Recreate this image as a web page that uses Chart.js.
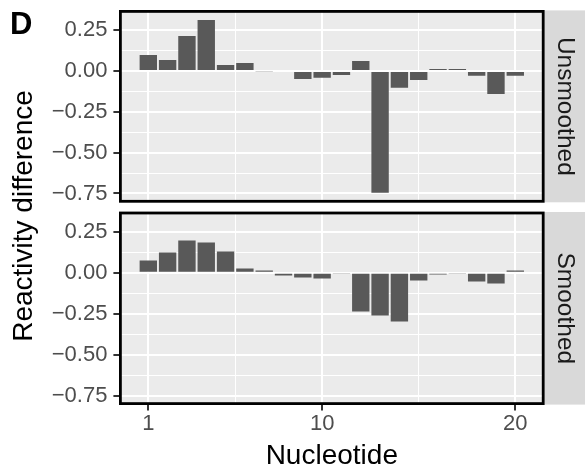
<!DOCTYPE html>
<html>
<head>
<meta charset="utf-8">
<script src="https://cdn.jsdelivr.net/npm/chart.js@4.4.1/dist/chart.umd.min.js"></script>
<style>
  body { margin: 0; background: #fff; }
  #wrap { position: relative; width: 585px; height: 470px; font-family: "Liberation Sans", Arial, sans-serif; }
  #wrap canvas { position: absolute; left: 0; top: 0; }
  .tag { position: absolute; left: 10px; top: 8px; font-size: 31px; font-weight: bold; line-height: 1; color: #000; }
  .ytitle { position: absolute; left: 23px; top: 216px; font-size: 28px; line-height: 1; color: #000;
            white-space: nowrap; transform: translate(-50%, -50%) rotate(-90deg); }
</style>
</head>
<body>
<div id="wrap">
  <canvas id="top" width="585" height="470"></canvas>
  <canvas id="bottom" width="585" height="470"></canvas>
  <div class="tag">D</div>
  <div class="ytitle">Reactivity difference</div>
</div>
<script>
// reactivity difference per nucleotide
const nucleotides = [1, 2, 3, 4, 5, 6, 7, 8, 9, 10, 11, 12, 13, 14, 15, 16, 17, 18, 19, 20];
const unsmoothed = [0.098, 0.067, 0.214, 0.312, 0.037, 0.049, -0.005, 0.006, -0.049, -0.041,
                    -0.024, 0.061, -0.745, -0.102, -0.055, 0.012, 0.012, -0.029, -0.141, -0.029];
const smoothed = [0.075, 0.124, 0.197, 0.185, 0.130, 0.026, 0.014, -0.016, -0.028, -0.035,
                  -0.004, -0.236, -0.260, -0.297, -0.047, -0.010, -0.004, -0.053, -0.065, 0.014];

// axis breaks and labels
const yBreaks = [-0.75, -0.5, -0.25, 0, 0.25];
const yLabels = ['\u22120.75', '\u22120.50', '\u22120.25', '0.00', '0.25'];
const yMinorBreaks = [-0.625, -0.375, -0.125, 0.125];
const xBreaks = [1, 10, 20];
const xLabels = ['1', '10', '20'];
const xMinorBreaks = [5.5, 15];
const panelNames = ['Unsmoothed', 'Smoothed'];

const yLimits = [-0.798, 0.365];
const xLimits = [-0.445, 21.445];

Chart.defaults.font.family = '"Liberation Sans", Arial, sans-serif';

function breakIndex(v, breaks) {
  return breaks.findIndex(b => Math.abs(b - v) < 1e-9);
}

// grey panel, black frame and facet strip on the right
const panelPlugin = {
  id: 'panel',
  beforeDraw(chart) {
    const a = chart.chartArea, ctx = chart.ctx;
    ctx.save();
    ctx.fillStyle = '#EBEBEB';
    ctx.fillRect(a.left, a.top, a.right - a.left, a.bottom - a.top);
    ctx.restore();
  },
  afterDraw(chart, args, opts) {
    const a = chart.chartArea, ctx = chart.ctx;
    ctx.save();
    ctx.fillStyle = '#D9D9D9';
    ctx.fillRect(a.right + 1, a.top - 1, chart.width - a.right - 1, a.bottom - a.top + 2);
    ctx.strokeStyle = '#000';
    ctx.lineWidth = 2.8;
    ctx.strokeRect(a.left, a.top, a.right - a.left, a.bottom - a.top);
    ctx.translate((a.right + chart.width) / 2 + 0.5, (a.top + a.bottom) / 2);
    ctx.rotate(Math.PI / 2);
    ctx.fillStyle = '#1A1A1A';
    ctx.font = '24.5px "Liberation Sans", Arial, sans-serif';
    ctx.textAlign = 'center';
    ctx.textBaseline = 'middle';
    ctx.fillText(opts.label, 0, 0);
    ctx.restore();
  }
};

function makePanel(id, values, label, showX) {
  const xTicks = xBreaks.concat(xMinorBreaks).sort((a, b) => a - b);
  const yTicks = yBreaks.concat(yMinorBreaks).sort((a, b) => a - b);
  const padding = showX
    ? { top: 213, right: 585 - 543.2, bottom: 0, left: 0 }
    : { top: 11.4, right: 585 - 543.2, bottom: 470 - 201.3, left: 0 };

  return new Chart(document.getElementById(id), {
    type: 'bar',
    data: {
      datasets: [{
        data: nucleotides.map((n, i) => ({ x: n, y: values[i] })),
        backgroundColor: '#595959',
        borderWidth: 0,
        categoryPercentage: 1,
        barPercentage: 0.9
      }]
    },
    plugins: [panelPlugin],
    options: {
      responsive: false,
      animation: false,
      events: [],
      layout: { padding: padding },
      plugins: {
        legend: { display: false },
        tooltip: { enabled: false },
        panel: { label: label }
      },
      scales: {
        x: {
          type: 'linear',
          min: xLimits[0],
          max: xLimits[1],
          offset: false,
          afterBuildTicks: s => { s.ticks = xTicks.map(v => ({ value: v })); },
          afterFit: s => {
            s.height = showX ? 470 - 403.6 : 0;
            s.paddingLeft = 0;
            s.paddingRight = 0;
          },
          border: { display: false },
          grid: {
            offset: false,
            color: '#FFFFFF',
            lineWidth: c => breakIndex(c.tick.value, xBreaks) >= 0 ? 2 : 1,
            drawTicks: showX,
            tickLength: 7,
            tickWidth: c => breakIndex(c.tick.value, xBreaks) >= 0 ? 2 : 0,
            tickColor: c => breakIndex(c.tick.value, xBreaks) >= 0 ? '#333333' : 'rgba(0,0,0,0)'
          },
          ticks: {
            display: showX,
            autoSkip: false,
            maxRotation: 0,
            padding: 0,
            color: '#4D4D4D',
            font: { size: 22 },
            callback: v => {
              const i = breakIndex(v, xBreaks);
              return i < 0 ? '' : xLabels[i];
            }
          },
          title: {
            display: showX,
            text: 'Nucleotide',
            color: '#000000',
            font: { size: 28, lineHeight: 1 },
            padding: 0
          }
        },
        y: {
          min: yLimits[0],
          max: yLimits[1],
          afterBuildTicks: s => { s.ticks = yTicks.map(v => ({ value: v })); },
          afterFit: s => {
            s.width = 120.4;
            s.paddingTop = 0;
            s.paddingBottom = 0;
          },
          border: { display: false },
          grid: {
            color: '#FFFFFF',
            lineWidth: c => breakIndex(c.tick.value, yBreaks) >= 0 ? 2 : 1,
            tickLength: 7,
            tickWidth: c => breakIndex(c.tick.value, yBreaks) >= 0 ? 2 : 0,
            tickColor: c => breakIndex(c.tick.value, yBreaks) >= 0 ? '#333333' : 'rgba(0,0,0,0)'
          },
          ticks: {
            autoSkip: false,
            padding: 6,
            color: '#4D4D4D',
            font: { size: 22 },
            callback: v => {
              const i = breakIndex(v, yBreaks);
              return i < 0 ? '' : yLabels[i];
            }
          }
        }
      }
    }
  });
}

makePanel('top', unsmoothed, panelNames[0], false);
makePanel('bottom', smoothed, panelNames[1], true);
</script>
</body>
</html>
